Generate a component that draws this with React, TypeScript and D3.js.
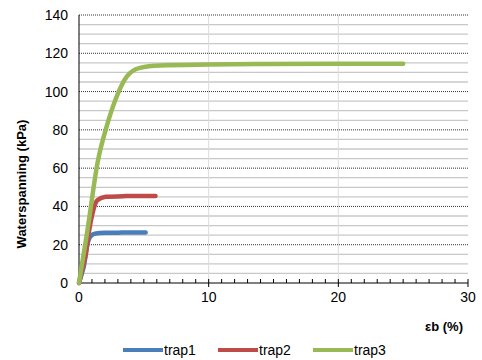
import * as d3 from "d3";
import { useEffect, useRef } from "react";

// strain eb (%) vs. water tension (kPa)
const trap1X = [0, 0.2, 0.39, 0.64, 0.9, 1.29, 2.06, 3.0, 4.0, 5.14];
const trap1Y = [0, 4.5, 9.3, 20, 24.5, 25.9, 26.2, 26.3, 26.4, 26.4];
const trap2X = [0, 0.25, 0.51, 0.77, 1.03, 1.41, 2.06, 3.6, 4.8, 5.9];
const trap2Y = [0, 7, 14.6, 27, 36, 43.2, 45, 45.4, 45.5, 45.5];
const trap3X = [0, 0.64, 1.45, 2.13, 2.9, 3.68, 4.7, 6.25, 10, 14, 20, 25];
const trap3Y = [0, 27, 63.5, 81.7, 97.3, 107.8, 112.4, 113.6, 114.1, 114.4, 114.5, 114.5];

const seriesNames = ["trap1", "trap2", "trap3"];
const seriesColors = ["#4a7ebb", "#be4b48", "#98b954"];
const xTicks = [0, 10, 20, 30];
const yTicks = [0, 20, 40, 60, 80, 100, 120, 140];

const App = () => {
  const ref = useRef(null);

  useEffect(() => {
    const svg = d3.select(ref.current);
    const font = "'Liberation Sans', Arial, sans-serif";
    const left = 79;
    const right = 468;
    const top = 15;
    const bottom = 283;

    const x = d3.scaleLinear().domain([0, 30]).range([left, right]);
    const y = d3.scaleLinear().domain([0, 140]).range([bottom, top]);

    // minor horizontal grid (every 5)
    svg
      .append("g")
      .selectAll("line")
      .data(d3.range(5, 140, 5).filter((v) => v % 20 !== 0))
      .enter()
      .append("line")
      .attr("x1", left)
      .attr("x2", right)
      .attr("y1", (d) => y(d))
      .attr("y2", (d) => y(d))
      .attr("stroke", "#c8c8c8")
      .attr("stroke-width", 1.3);

    // vertical grid
    svg
      .append("g")
      .selectAll("line")
      .data([10, 20])
      .enter()
      .append("line")
      .attr("x1", (d) => x(d))
      .attr("x2", (d) => x(d))
      .attr("y1", top)
      .attr("y2", bottom)
      .attr("stroke", "#dcdcdc")
      .attr("stroke-width", 1);

    // major horizontal grid, dotted
    svg
      .append("g")
      .selectAll("line")
      .data(yTicks.slice(1))
      .enter()
      .append("line")
      .attr("x1", left)
      .attr("x2", right)
      .attr("y1", (d) => y(d))
      .attr("y2", (d) => y(d))
      .attr("stroke", "#333")
      .attr("stroke-width", 1)
      .attr("stroke-dasharray", "1,1");

    // axes lines
    svg.append("line").attr("x1", left).attr("x2", left).attr("y1", top).attr("y2", bottom).attr("stroke", "#000");
    svg.append("line").attr("x1", left).attr("x2", right).attr("y1", bottom).attr("y2", bottom).attr("stroke", "#000");

    // x ticks (minor every 1, major crossing)
    svg
      .append("g")
      .selectAll("line")
      .data(d3.range(1, 31))
      .enter()
      .append("line")
      .attr("x1", (d) => x(d))
      .attr("x2", (d) => x(d))
      .attr("y1", bottom - 4)
      .attr("y2", (d) => (d % 10 === 0 ? bottom + 4 : bottom))
      .attr("stroke", "#000");

    svg
      .append("g")
      .selectAll("text")
      .data(xTicks)
      .enter()
      .append("text")
      .attr("x", (d) => x(d))
      .attr("y", bottom + 19)
      .attr("text-anchor", "middle")
      .style("font-family", font)
      .style("font-size", "14px")
      .text((d) => d);

    svg
      .append("g")
      .selectAll("text")
      .data(yTicks)
      .enter()
      .append("text")
      .attr("x", left - 11)
      .attr("y", (d) => y(d) + 5)
      .attr("text-anchor", "end")
      .style("font-family", font)
      .style("font-size", "14px")
      .text((d) => d);

    // lines
    const line = d3
      .line()
      .x((d) => x(d[0]))
      .y((d) => y(d[1]))
      .curve(d3.curveMonotoneX);

    const all = [
      trap1X.map((v, i) => [v, trap1Y[i]]),
      trap2X.map((v, i) => [v, trap2Y[i]]),
      trap3X.map((v, i) => [v, trap3Y[i]]),
    ];

    all.forEach((pts, i) => {
      svg
        .append("path")
        .datum(pts)
        .attr("d", line)
        .attr("fill", "none")
        .attr("stroke", seriesColors[i])
        .attr("stroke-width", 4.5)
        .attr("stroke-linecap", "round")
        .attr("stroke-linejoin", "round");
    });

    // axis titles
    svg
      .append("text")
      .attr("transform", `translate(26, 184) rotate(-90)`)
      .attr("text-anchor", "middle")
      .style("font-family", font)
      .style("font-size", "13px")
      .style("font-weight", "bold")
      .text("Waterspanning (kPa)");

    svg
      .append("text")
      .attr("x", 463)
      .attr("y", 331)
      .attr("text-anchor", "end")
      .style("font-family", font)
      .style("font-size", "13px")
      .style("font-weight", "bold")
      .text("εb (%)");

    // legend
    const legendX = [123, 218, 313];
    seriesNames.forEach((name, i) => {
      svg
        .append("line")
        .attr("x1", legendX[i])
        .attr("x2", legendX[i] + 40)
        .attr("y1", 350)
        .attr("y2", 350)
        .attr("stroke", seriesColors[i])
        .attr("stroke-width", 4);
      svg
        .append("text")
        .attr("x", legendX[i] + 41)
        .attr("y", 355)
        .style("font-family", font)
        .style("font-size", "14px")
        .text(name);
    });

    return () => svg.selectAll("*").remove();
  }, []);

  return (
    <svg
      ref={ref}
      width={482}
      height={360}
      style={{ position: "absolute", left: 0, top: 0, background: "#fff" }}
    />
  );
};

export default App;
